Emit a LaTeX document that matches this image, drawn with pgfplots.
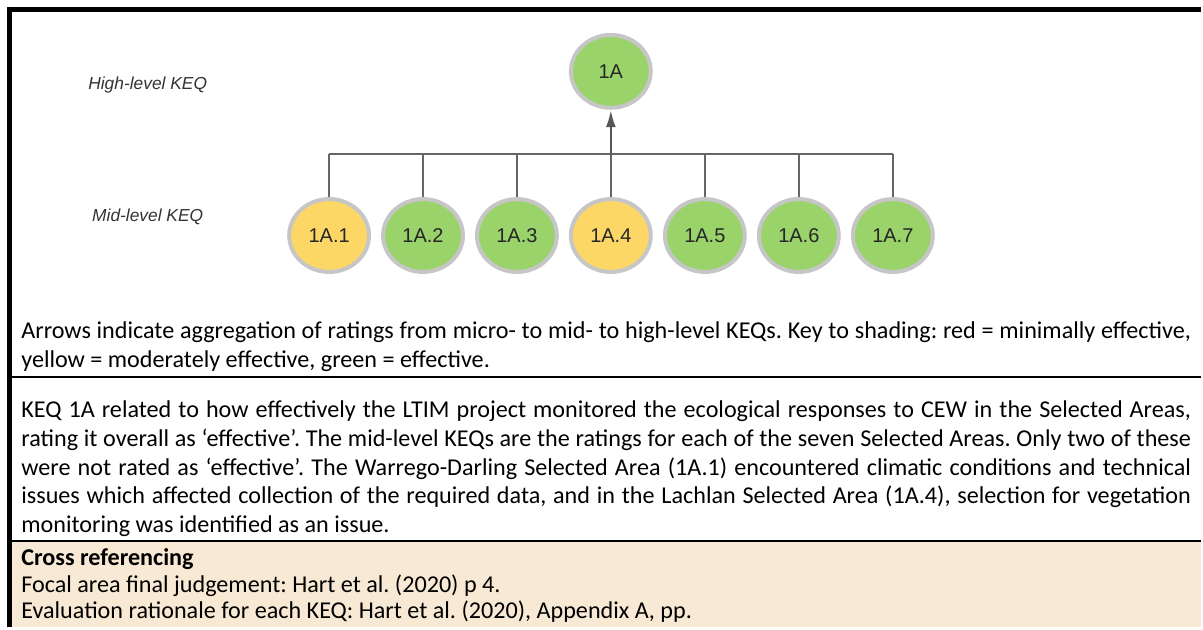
\documentclass[border=0pt]{standalone}
\usepackage{fontspec}
\setmainfont{Carlito}
\newfontfamily\arialf{Liberation Sans}
\usepackage{pgfplots}
\pgfplotsset{compat=1.18}
\usetikzlibrary{arrows.meta}
\frenchspacing
\definecolor{gfill}{HTML}{9BD36B}
\definecolor{yfill}{HTML}{FDD766}
\definecolor{ring}{HTML}{C6C6C6}
\definecolor{conn}{HTML}{666666}
\definecolor{beige}{HTML}{F8E9D4}
\definecolor{lbl}{HTML}{333333}
\definecolor{clbl}{HTML}{262626}
\newcommand{\jl}[1]{\makebox[586pt][s]{#1}}
\tikzset{body/.style={anchor=base west, inner sep=0pt, font=\fontsize{12.1pt}{14.5pt}\selectfont, text=black},
  side/.style={anchor=base, inner sep=0pt, font=\arialf\itshape\fontsize{8.7pt}{10pt}\selectfont, text=lbl}}
\pgfplotsset{circ/.style={only marks, mark=*, mark size=18.25pt,
    nodes near coords, point meta=explicit symbolic,
    nodes near coords align={center},
    every node near coord/.append style={font=\arialf\fontsize{10pt}{12pt}\selectfont, text=clbl, inner sep=0pt}}}
\begin{document}
\begin{tikzpicture}
\begin{axis}[scale only axis, width=601.5pt, height=314pt,
  xmin=0, xmax=1203, ymin=0, ymax=628, y dir=reverse,
  hide axis, clip=false]
\fill[white] (axis cs:0,0) rectangle (axis cs:1203,628);
\fill[beige] (axis cs:12,543) rectangle (axis cs:1203,628);
\draw[black, line width=2.5pt] (axis cs:9.5,628) -- (axis cs:9.5,9.5) -- (axis cs:1203,9.5);
\draw[black, line width=1pt] (axis cs:12,377.5) -- (axis cs:1203,377.5);
\draw[black, line width=1pt] (axis cs:12,542) -- (axis cs:1203,542);

% connectors
\addplot[conn, line width=1pt, no marks] coordinates {(329.8,154) (894.7,154)};
\addplot[conn, line width=0.75pt, no marks] coordinates {(329.8,154) (329.8,200)};
\addplot[conn, line width=0.75pt, no marks] coordinates {(423.9,154) (423.9,200)};
\addplot[conn, line width=0.75pt, no marks] coordinates {(518,154) (518,200)};
\addplot[conn, line width=1pt, no marks] coordinates {(612.1,154) (612.1,200)};
\addplot[conn, line width=0.75pt, no marks] coordinates {(706.3,154) (706.3,200)};
\addplot[conn, line width=0.75pt, no marks] coordinates {(800.5,154) (800.5,200)};
\addplot[conn, line width=0.75pt, no marks] coordinates {(894.7,154) (894.7,200)};
\addplot[color=conn!85!black, line width=1pt, no marks, -{Latex[length=8.5pt,width=5pt]}] coordinates {(612.1,154) (612.1,110.5)};

% KEQ circles
\addplot[circ, mark options={draw=ring, fill=gfill, line width=2pt, xscale=1.096}] coordinates {
 (612.1,71.5) [1A]
 (423.9,236) [1A.2]
 (518,236) [1A.3]
 (706.3,236) [1A.5]
 (800.5,236) [1A.6]
 (894.7,236) [1A.7]
};
\addplot[circ, mark options={draw=ring, fill=yfill, line width=2pt, xscale=1.096}] coordinates {
 (329.8,236) [1A.1]
 (612.1,236) [1A.4]
};

\node[side] at (axis cs:148,89.5) {High-level KEQ};
\node[side] at (axis cs:148,221.5) {Mid-level KEQ};

\node[body] at (axis cs:21,339) {\jl{Arrows indicate aggregation of ratings from micro- to mid- to high-level KEQs. Key to shading: red = minimally effective,}};
\node[body] at (axis cs:21,368) {yellow = moderately effective, green = effective.};
\node[body] at (axis cs:21,418) {\jl{KEQ 1A related to how effectively the LTIM project monitored the ecological responses to CEW in the Selected Areas,}};
\node[body] at (axis cs:21,447) {\jl{rating it overall as ‘effective’. The mid-level KEQs are the ratings for each of the seven Selected Areas. Only two of these}};
\node[body] at (axis cs:21,476) {\jl{were not rated as ‘effective’. The Warrego-Darling Selected Area (1A.1) encountered climatic conditions and technical}};
\node[body] at (axis cs:21,505) {\jl{issues which affected collection of the required data, and in the Lachlan Selected Area (1A.4), selection for vegetation}};
\node[body] at (axis cs:21,534) {monitoring was identified as an issue.};
\node[body] at (axis cs:21,567) {\textbf{Cross referencing}};
\node[body] at (axis cs:21,593.5) {Focal area final judgement: Hart et al. (2020) p 4.};
\node[body] at (axis cs:21,620) {Evaluation rationale for each KEQ: Hart et al. (2020), Appendix A, pp.};
\end{axis}
\end{tikzpicture}
\end{document}
